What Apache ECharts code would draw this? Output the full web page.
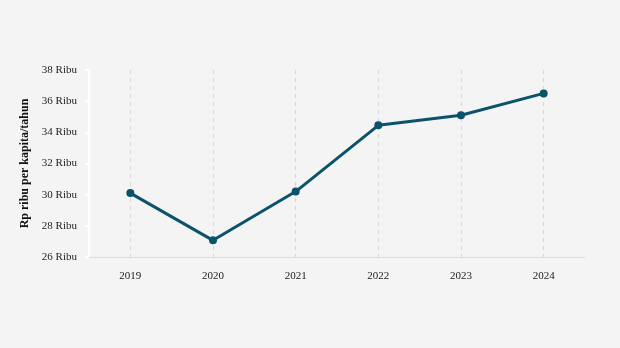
<!DOCTYPE html>
<html><head><meta charset="utf-8">
<script src="https://cdn.jsdelivr.net/npm/echarts@6/dist/echarts.min.js"></script>
<style>html,body{margin:0;padding:0;background:#f4f4f4}#c{width:620px;height:348px}</style>
</head><body><div id="c"></div>
<script>
const years = ['2019','2020','2021','2022','2023','2024'];
const values = [30.1, 27.07, 30.2, 34.45, 35.1, 36.5];
const yTicks = [26, 28, 30, 32, 34, 36, 38];
const yName = 'Rp ribu per kapita/tahun';

const chart = echarts.init(document.getElementById('c'));
chart.setOption({
  backgroundColor: '#f4f4f4',
  textStyle: {fontFamily: 'Liberation Serif'},
  grid: {left: 89, right: 35, top: 70, bottom: 91},
  xAxis: {
    type: 'category', data: years, boundaryGap: true,
    axisLine: {lineStyle: {color: '#dddddd', width: 1}},
    axisTick: {show: false},
    axisLabel: {color: '#222', fontSize: 11, margin: 14, fontFamily: 'Liberation Serif'},
    splitLine: {show: true, alignWithLabel: true, lineStyle: {color: '#d9d9d9', type: [4, 4], width: 1.2}}
  },
  yAxis: {
    type: 'value', min: yTicks[0], max: yTicks[yTicks.length-1], interval: 2,
    name: yName, nameLocation: 'middle', nameGap: 58, nameRotate: 90,
    nameTextStyle: {fontSize: 12, fontWeight: 'bold', color: '#111', fontFamily: 'Liberation Serif'},
    axisLine: {show: true, lineStyle: {color: '#ffffff', width: 2}},
    axisTick: {show: true, length: 4, lineStyle: {color: '#ffffff', width: 2}},
    axisLabel: {color: '#222', fontSize: 11, margin: 12, fontFamily: 'Liberation Serif', formatter: v => v + ' Ribu'},
    splitLine: {show: false}
  },
  series: [{
    type: 'line', data: values,
    lineStyle: {color: '#0b526b', width: 3},
    itemStyle: {color: '#0b526b'},
    symbol: 'circle', symbolSize: 8,
    animation: false
  }]
});
</script></body></html>
